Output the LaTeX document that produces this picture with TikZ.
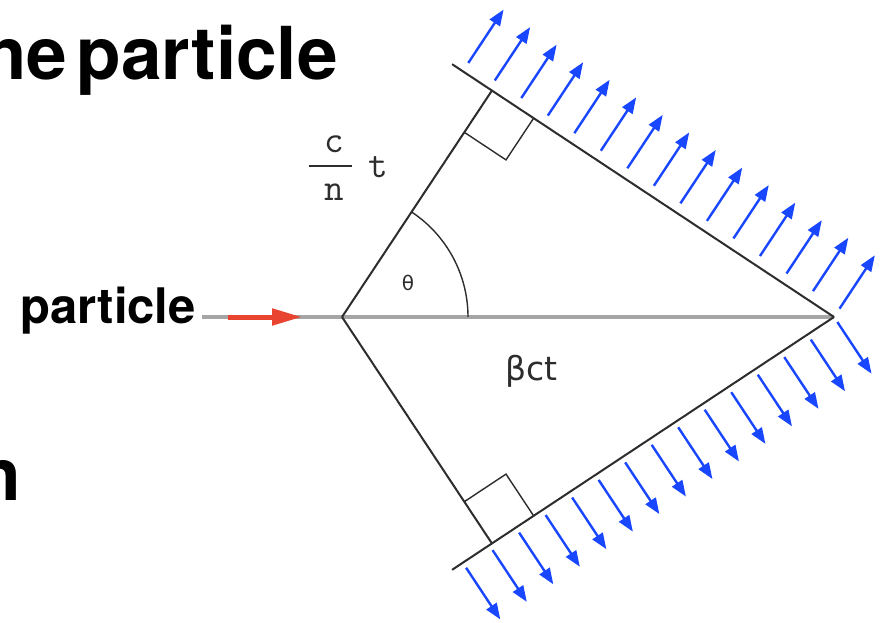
\documentclass[tikz,border=0pt]{standalone}
\usepackage{fontspec}
\usetikzlibrary{arrows.meta}
\newfontfamily\headfont[WordSpace=0.45]{TeX Gyre Heros}
\newfontfamily\labelfont{DejaVu Sans}
\definecolor{waveblue}{RGB}{25,70,255}
\definecolor{partred}{RGB}{232,68,48}
\definecolor{trackgray}{RGB}{165,165,165}
\definecolor{linegray}{RGB}{45,45,45}
\begin{document}
\begin{tikzpicture}[x=1pt,y=-1pt,
  bigtext/.style={font=\headfont\bfseries\fontsize{73}{80}\selectfont, inner sep=0pt, anchor=base east},
  midtext/.style={font=\headfont\bfseries\fontsize{49}{55}\selectfont, inner sep=0pt, anchor=base east},
  monotext/.style={font=\ttfamily\fontsize{38}{40}\selectfont, inner sep=0pt, text=linegray},
  symtext/.style={font=\labelfont\fontsize{20}{22}\selectfont, inner sep=0pt, text=linegray},
  betatext/.style={font=\labelfont\fontsize{33}{36}\selectfont, inner sep=0pt, anchor=base west, text=linegray},
  geomline/.style={draw=linegray, line width=2pt},
  thinline/.style={draw=linegray, line width=1.4pt},
  track/.style={draw=trackgray, line width=4pt},
  redarrow/.style={draw=partred, line width=5pt, -{Triangle[length=30pt,width=16pt]}},
  wavearrow/.style={draw=waveblue, line width=2.4pt, -{Triangle[length=16pt,width=12pt]}}
]
\useasboundingbox (0,0) rectangle (883,623);
\fill[white] (0,0) rectangle (883,623);
\clip (0,0) rectangle (883,623);

% key points
\coordinate (V) at (342,317);
\coordinate (A) at (834,317);
\coordinate (F1) at (491.9,90.6);
\coordinate (W1) at (452.1,64.2);
\coordinate (F2) at (491.9,543.4);
\coordinate (W2) at (452.1,569.8);
\coordinate (Q1) at (464.3,132.3);
\coordinate (Q2) at (506.0,159.9);
\coordinate (Q3) at (533.6,118.2);
\coordinate (S1) at (464.3,501.7);
\coordinate (S2) at (506.0,474.1);
\coordinate (S3) at (533.6,515.8);
\coordinate (T0) at (202,317);
\coordinate (R0) at (228,317);
\coordinate (R1) at (302,317);

% texts
\node[bigtext] (title) at (338,80) {he particle};
\node[bigtext] (lower) at (21,500) {n};
\node[midtext] (plabel) at (196,323) {particle};

% track and particle
\draw[track] (T0) -- (A);
\draw[redarrow] (R0) -- (R1);

% cone geometry
\draw[geomline] (V) -- (F1);
\draw[geomline] (V) -- (F2);
\draw[geomline] (W1) -- (A);
\draw[geomline] (W2) -- (A);
\draw[thinline] (Q1) -- (Q2) -- (Q3);
\draw[thinline] (S1) -- (S2) -- (S3);
\draw[thinline] plot[domain=0:56.5,samples=40] ({342+126*cos(\x)},{317-126*sin(\x)});

% labels
\node[monotext] (cnum) at (334,144) {c};
\node[monotext] (cden) at (334,192) {n};
\draw[line width=2pt, draw=linegray] (309,166) -- (352,166);
\node[monotext] (tvar) at (378,167) {t};
\node[symtext] (theta) at (408,283) {θ};
\node[betatext] (bct) at (505,380) {βct};

% emitted light
\foreach \k in {0,...,14}{
  \pgfmathsetmacro\dd{31.8*\k}
  \draw[wavearrow] ({834-0.8339*\dd+0.5519*10},{317-0.5519*\dd-0.8339*10}) -- ++({0.5519*64},{-0.8339*64});
  \draw[wavearrow] ({834-0.8339*\dd+0.5519*6},{317+0.5519*\dd+0.8339*6}) -- ++({0.5519*62},{0.8339*62});
}
\end{tikzpicture}
\end{document}
